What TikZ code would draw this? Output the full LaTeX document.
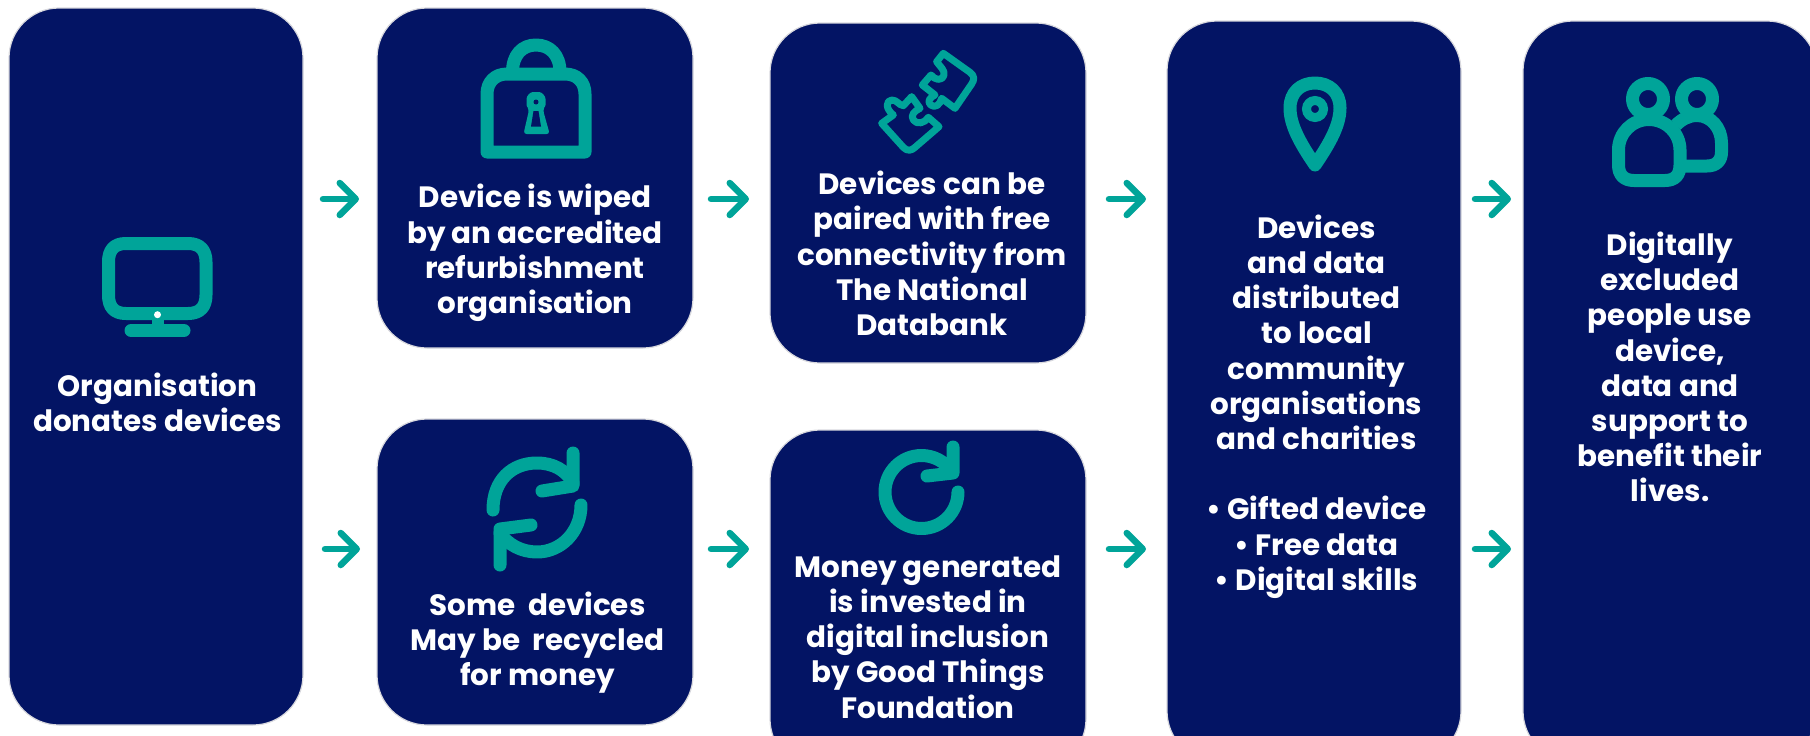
\documentclass[tikz,border=0pt]{standalone}
\usepackage{fontspec}
\setmainfont{Poppins}
\usetikzlibrary{arrows.meta,calc}
\definecolor{navy}{RGB}{3,20,100}
\definecolor{teal1}{RGB}{0,164,153}
\definecolor{edge}{RGB}{217,217,222}
\tikzset{
  x=1pt,y=-1pt,
  card/.style={draw=edge,line width=1.2pt,fill=navy,rounded corners=50pt,inner sep=0pt,outer sep=0pt,anchor=north west},
  label/.style={text=white,align=center,font=\fontsize{29.4}{35.2}\selectfont\bfseries,inner sep=0pt},
  flow/.style={draw=teal1,line width=6.5pt,line cap=round,line join=round,
     -{Straight Barb[length=16pt,width=32pt,line width=6.5pt,round]},shorten >=3pt},
  icon/.style={draw=teal1,line width=13pt,line cap=round,line join=round},
  iconthin/.style={draw=teal1,line width=7pt,line cap=round,line join=round},
}
\begin{document}
\begin{tikzpicture}
\path[use as bounding box,clip] (0,0) rectangle (1810,736);
% cards
\node[card,minimum width=294pt,minimum height=717pt] (c1) at (9,8) {};
\node[card,minimum width=316pt,minimum height=340pt] (c2) at (377,8) {};
\node[card,minimum width=316pt,minimum height=306pt] (c3) at (377,419) {};
\node[card,minimum width=316pt,minimum height=340pt] (c4) at (770,23) {};
\node[card,minimum width=316pt,minimum height=339pt] (c5) at (770,430) {};
\node[card,minimum width=294pt,minimum height=740pt] (c6) at (1167,21) {};
\node[card,minimum width=294pt,minimum height=740pt] (c7) at (1523,21) {};
% labels
\node[label] (t1) at (157.5,402.5) {Organisation\\donates devices};
\node[label] (t2) at (535,253) {Device is wiped\\by an accredited\\refurbishment\\organisation};
\node[label] (t3) at (537.5,642.5) {Some\ \ devices\\May be\ \ recycled\\for money};
\node[label] (t4) at (932,253.5) {Devices can be\\paired with free\\connectivity from\\The National\\Databank};
\node[label] (t5) at (928,637) {Money generated\\is invested in\\digital inclusion\\by Good Things\\Foundation};
\node[label] (t6) at (1316.5,406.5) {Devices\\and data\\distributed\\to local\\community\\organisations\\and charities\\[35.2pt]• Gifted device\\• Free data\\• Digital skills};
\node[label] (t7) at (1670,367) {Digitally\\excluded\\people use\\device,\\data and\\support to\\benefit their\\lives.};
% connectors
\foreach \a/\b/\ta/\hb/\yy in {c1/c2/323/362/199,c1/c3/325/363/549,c2/c4/711/752/199,c3/c5/711/752/549,c4/c6/1109/1149/199,c5/c6/1109/1149/549,c6/c7/1475/1514/199,c6/c7/1475/1514/549}{
  \coordinate (tail) at (\ta,\yy);
  \coordinate (head) at (\hb,\yy);
  \draw[flow] (tail) -- (head);
}
% monitor
\draw[icon] (126,243.5) -- (188,243.5) .. controls (200,243.5) and (206,250) .. (206,262) -- (206,295) .. controls (206,307) and (200,313.5) .. (188,313.5) -- (126,313.5) .. controls (114,313.5) and (108.5,307) .. (108.5,295) -- (108.5,262) .. controls (108.5,250) and (114,243.5) .. (126,243.5) -- cycle;
\fill[teal1] (151.5,313) rectangle (164,326);
\draw[icon] (131,330.5) -- (184,330.5);
\fill[white] (157.5,314.7) circle (3.5);
% lock
\draw[icon,line cap=butt] (512.5,72) .. controls (512.5,55) and (522,45) .. (536,45) .. controls (550,45) and (560,55) .. (560,72);
\draw[icon] (507,74) -- (565,74) .. controls (577,74) and (585,82) .. (585,94) -- (585,152) -- (487,152) -- (487,94) .. controls (487,82) and (495,74) .. (507,74) -- cycle;
\fill[teal1,rounded corners=3pt] (526.5,102) .. controls (526.5,96) and (530,92) .. (536,92) .. controls (542,92) and (545.5,96) .. (545.5,102) .. controls (545.5,106) and (544,108) .. (543,110) -- (549.7,134) -- (523.5,134) -- (529,110) .. controls (528,108) and (526.5,106) .. (526.5,102) -- cycle;
\fill[navy] (536,102) circle (2.5);
\fill[navy] (533.5,111) -- (538.5,111) -- (541,126.5) -- (531,126.5) -- cycle;
% recycle
\draw[icon] (493,510) .. controls (493,480) and (512,463) .. (537,463) .. controls (553,463) and (566,470) .. (573,483);
\draw[icon] (573,453) -- (573,486) -- (542,491);
\draw[icon] (581,505) .. controls (581,532) and (561,552) .. (537,552) .. controls (522,552) and (508,545) .. (500,533);
\draw[icon] (500,565) -- (500,529) -- (531,525);
% money
\draw[icon] (958,492) arc[start angle=0,end angle=325,radius=36.5];
\draw[icon] (953,447) -- (953,473) -- (927,476);
% pin
\draw[icon] (1315,165) .. controls (1300,143) and (1290,125) .. (1290,108) .. controls (1290,92) and (1301,83) .. (1315,83) .. controls (1329,83) and (1340,92) .. (1340,108) .. controls (1340,125) and (1330,143) .. (1315,165) -- cycle;
\draw[teal1,line width=9pt] (1315,109) circle (8.5);
% people
\draw[icon] (1648,99) circle (15.5);
\draw[icon] (1697,99) circle (15.5);
\draw[icon] (1649,119.5) .. controls (1666,119.5) and (1680,133) .. (1680,150) -- (1680,165) .. controls (1680,175) and (1675,180.5) .. (1665,180.5) -- (1634,180.5) .. controls (1624,180.5) and (1618.5,175) .. (1618.5,165) -- (1618.5,150) .. controls (1618.5,133) and (1632,119.5) .. (1649,119.5) -- cycle;
\draw[icon,line cap=butt] (1676,125) .. controls (1682,119) and (1689,115.5) .. (1697,115.5) .. controls (1711,115.5) and (1721.5,128) .. (1721.5,143) -- (1721.5,152) .. controls (1721.5,161) and (1716,166) .. (1707,166) -- (1682,166);
% puzzle
\begin{scope}[shift={(860,40)},x=0.3333pt,y=-0.3333pt]
\draw[iconthin] (250,40) -- (330,97) .. controls (345,108) and (343,120) .. (335,132) -- (285,205) -- (245,175) .. controls (240,195) and (225,205) .. (212,195) .. controls (200,185) and (210,172) .. (225,165) -- (187,135) -- (213,105) .. controls (225,120) and (245,125) .. (252,105) .. controls (255,90) and (240,80) .. (230,65) -- cycle;
\draw[iconthin] (155,170) -- (130,197) .. controls (115,195) and (112,180) .. (95,180) .. controls (78,182) and (75,205) .. (100,225) -- (65,250) -- (130,322) .. controls (142,335) and (155,332) .. (165,322) -- (237,260) -- (205,232) .. controls (195,250) and (170,255) .. (160,240) .. controls (150,225) and (165,212) .. (180,205) -- cycle;
\end{scope}
\end{tikzpicture}
\end{document}
